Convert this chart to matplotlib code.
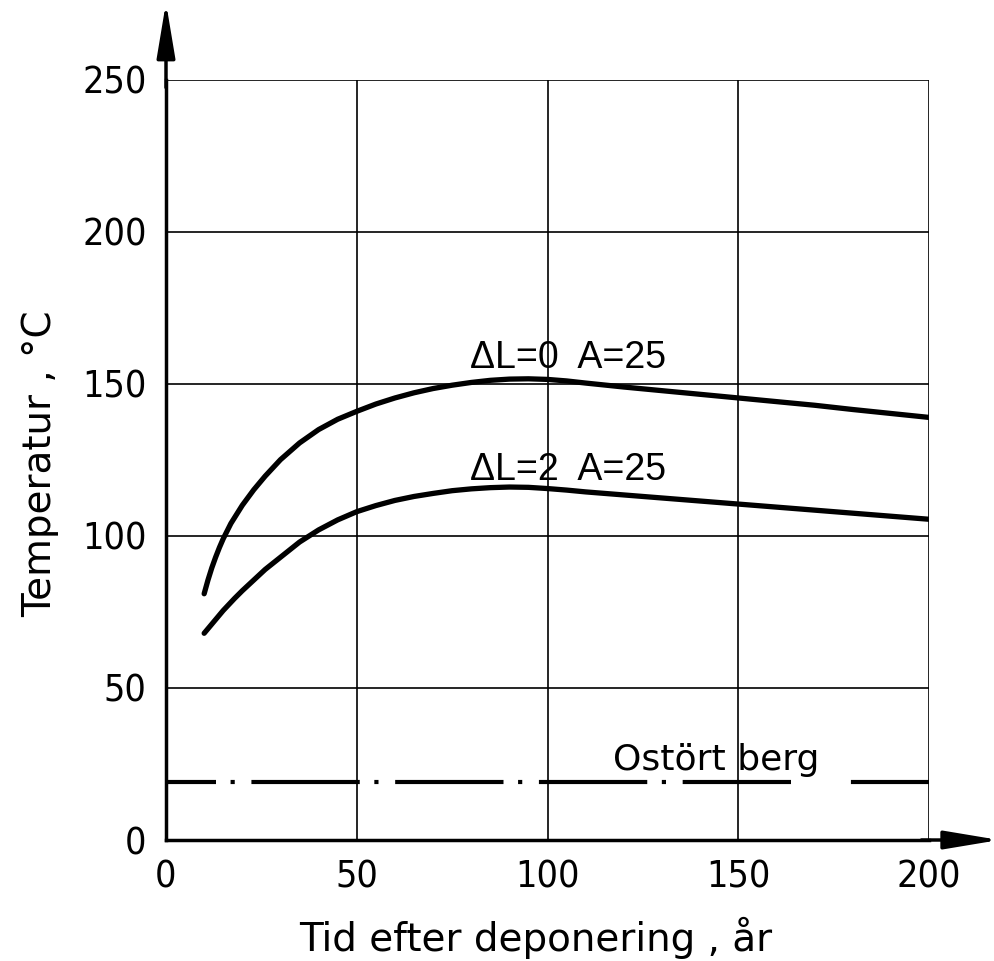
import matplotlib
matplotlib.use("Agg")
import matplotlib.pyplot as plt


# curve: dL=0, A=25
upper_x = [10, 11, 12, 13, 14, 15, 17, 20, 23, 26, 30, 35, 40, 45, 50, 55, 60, 65, 70,
           75, 80, 85, 90, 95, 100, 105, 110, 120, 130, 140, 150, 160, 170, 180, 190, 200]
upper_y = [81, 85.5, 89.5, 93, 96.2, 99.1, 104.1, 110.1, 115.2, 119.7, 125.1, 130.6, 135,
           138.4, 141, 143.4, 145.4, 147.1, 148.5, 149.6, 150.5, 151.2, 151.6, 151.7,
           151.5, 151, 150.3, 149, 147.8, 146.6, 145.4, 144.2, 143, 141.6, 140.3, 139]

# curve: dL=2, A=25
lower_x = [10, 12, 15, 18, 20, 23, 26, 30, 35, 40, 45, 50, 55, 60, 65, 70, 75, 80,
           85, 90, 95, 100, 105, 110, 120, 130, 140, 150, 160, 170, 180, 190, 200]
lower_y = [68, 71, 75.5, 79.5, 82, 85.5, 89, 93, 98, 102, 105.3, 108, 110, 111.7, 113,
           114, 114.9, 115.5, 115.9, 116.1, 116, 115.6, 115.1, 114.5, 113.5, 112.5,
           111.5, 110.5, 109.5, 108.5, 107.5, 106.5, 105.5]

# undisturbed rock level (dash-dot, broken under the label)
rock_x1 = [0, 167]
rock_x2 = [180, 200]
rock_y = [19, 19]

x_ticks = [0, 50, 100, 150, 200]
y_ticks = [0, 50, 100, 150, 200, 250]

upper_label = "ΔL=0  A=25"
lower_label = "ΔL=2  A=25"
rock_label = "Ostört berg"


fig = plt.figure(figsize=(9.94, 9.61), dpi=100)
ax = fig.add_axes([0.167, 0.1259, 0.7677, 0.7909])

ax.set_xlim(0, 200)
ax.set_ylim(0, 250)
ax.set_xticks(x_ticks)
ax.set_yticks(y_ticks)
ax.grid(True, color="black", lw=1.2)
ax.set_axisbelow(True)

for side in ["top", "right"]:
    ax.spines[side].set_visible(False)
for side in ["left", "bottom"]:
    ax.spines[side].set_linewidth(2.5)

ax.tick_params(length=0, labelsize=27, pad=14)
for lab in ax.get_xticklabels() + ax.get_yticklabels():
    lab.set_fontstretch("condensed")

# curves
ax.plot(upper_x, upper_y, color="black", lw=3.8, solid_capstyle="round",
        solid_joinstyle="round")
ax.plot(lower_x, lower_y, color="black", lw=3.8, solid_capstyle="round",
        solid_joinstyle="round")

# rock level
ax.plot(rock_x1, rock_y, color="black", lw=3,
        linestyle=(14, (26, 3.5, 1, 4)), clip_on=False)
ax.plot(rock_x2, rock_y, color="black", lw=3)

# labels on the chart
ax.text(79.7, 158.5, upper_label, fontsize=27, va="center", ha="left",
        family=["Liberation Sans", "DejaVu Sans"])
ax.text(79.7, 121.7, lower_label, fontsize=27, va="center", ha="left",
        family=["Liberation Sans", "DejaVu Sans"])
ax.text(117.2, 26.3, rock_label, fontsize=26, va="center", ha="left")

# arrow heads on the axes
arrow = dict(arrowstyle="-|>,head_length=1.2,head_width=0.2", lw=2.5,
             color="black", shrinkA=0, shrinkB=0)
ax.annotate("", xy=(0, 1.102), xytext=(0, 0.99), xycoords="axes fraction",
            textcoords="axes fraction", arrowprops=dict(arrow, mutation_scale=28))
ax.annotate("", xy=(1.092, 0), xytext=(0.99, 0), xycoords="axes fraction",
            textcoords="axes fraction", arrowprops=dict(arrow, mutation_scale=28))

# axis titles
fig.text(536 / 994, 1 - 938 / 961, "Tid efter deponering , år", fontsize=28,
         ha="center", va="center")
fig.text(40 / 994, 1 - 464 / 961, "Temperatur , °C", fontsize=28,
         ha="center", va="center", rotation=90)

fig.savefig("out.png", dpi=100)
